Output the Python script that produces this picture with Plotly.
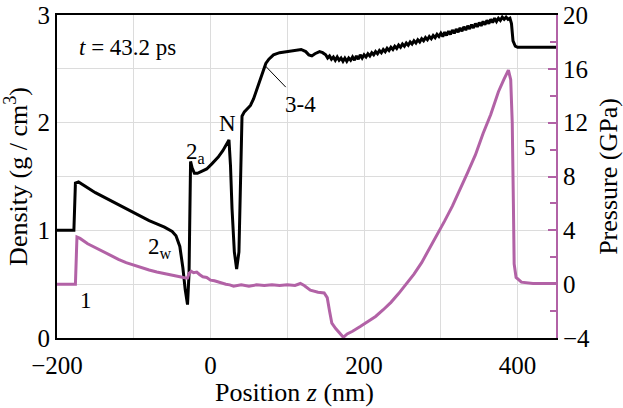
import plotly.graph_objects as go

# Density (black) — position z (nm), density (g/cm^3)
z_rho = [-200, -178, -176, -172, -150, -120, -100, -80, -70, -60, -50, -45, -40, -36, -33, -30,
         -28, -27, -26, -24, -21, -17, -12, -5, 2, 10, 16, 21, 24, 26, 28, 31, 34, 37, 39, 41,
         44, 48, 52, 56, 60, 64, 68, 72, 76, 82, 90, 100, 110, 118, 124, 128, 132, 136, 142,
         146, 150,
         152.5, 155, 157.5, 160, 162.5, 165, 167.5, 170, 172.5, 175, 177.5, 180, 182.5, 185,
         187.5, 190, 192.5, 195, 197.5, 200, 202.5, 205, 207.5, 210, 212.5, 215, 217.5, 220,
         222.5, 225, 227.5, 230, 232.5, 235, 237.5, 240, 242.5, 245, 247.5, 250, 252.5, 255,
         257.5, 260, 262.5, 265, 267.5, 270, 272.5, 275, 277.5, 280, 282.5, 285, 287.5, 290,
         292.5, 295, 297.5, 300, 302.5, 305, 307.5, 310, 312.5, 315, 317.5, 320, 322.5, 325,
         327.5, 330, 332.5, 335, 337.5, 340, 342.5, 345, 347.5, 350, 352.5, 355, 357.5, 360,
         362.5, 365, 367.5, 370, 372.5, 375, 377.5, 380, 382.5, 385, 387.5, 390,
         392, 394, 397, 400, 450]
rho = [1.0, 1.0, 1.44, 1.45, 1.35, 1.24, 1.16, 1.09, 1.06, 1.03, 0.99, 0.95, 0.85, 0.65, 0.45, 0.31,
       0.6, 1.3, 1.64, 1.58, 1.53, 1.53, 1.55, 1.57, 1.62, 1.68, 1.74, 1.80, 1.84, 1.6, 1.2, 0.8,
       0.64, 0.8, 1.4, 2.06,
       2.10, 2.13, 2.16, 2.22, 2.30, 2.37, 2.47, 2.55, 2.59, 2.63, 2.65, 2.66, 2.67, 2.68, 2.66,
       2.63, 2.62, 2.64, 2.66, 2.65, 2.63,
       2.60, 2.62, 2.59, 2.61, 2.58, 2.61, 2.58, 2.60, 2.57, 2.60, 2.57, 2.60, 2.58, 2.61,
       2.58, 2.62, 2.59, 2.63, 2.60, 2.63, 2.61, 2.64, 2.62, 2.65, 2.63, 2.66, 2.64, 2.67,
       2.65, 2.68, 2.66, 2.69, 2.67, 2.70, 2.68, 2.71, 2.69, 2.72, 2.70, 2.73, 2.71, 2.74,
       2.72, 2.75, 2.73, 2.76, 2.74, 2.77, 2.75, 2.78, 2.76, 2.79, 2.77, 2.80, 2.78, 2.81,
       2.79, 2.82, 2.80, 2.83, 2.80, 2.84, 2.81, 2.85, 2.82, 2.86, 2.83, 2.87, 2.84, 2.88,
       2.85, 2.89, 2.86, 2.90, 2.87, 2.91, 2.88, 2.92, 2.89, 2.93, 2.90, 2.94, 2.91, 2.95,
       2.92, 2.96, 2.93, 2.97, 2.94, 2.97, 2.95, 2.98, 2.96, 2.98, 2.96, 2.97,
       2.92, 2.76, 2.71, 2.70, 2.70]

# Pressure (purple) — position z (nm), pressure (GPa)
z_p = [-200, -176, -174, -170, -160, -150, -140, -130, -120, -110, -100, -90, -80, -70, -60, -50,
       -40, -32, -30, -28, -25, -22, -18, -14, -10, -5, 0, 5, 10, 15, 20, 25, 30, 40, 50, 60, 70,
       80, 90, 100, 110, 117, 122, 130, 140, 148, 152, 155, 158, 163, 168, 173, 178, 185, 195,
       205, 215, 225, 235, 245, 255, 265, 275, 285, 295, 305, 315, 325, 335, 345, 355, 365, 375,
       382, 388, 391, 393, 394.5, 395.5, 398, 405, 420, 450]
pres = [0, 0, 3.5, 3.4, 3.0, 2.7, 2.4, 2.1, 1.85, 1.6, 1.4, 1.2, 1.05, 0.9, 0.8, 0.7,
        0.55, 0.45, 0.45, 0.8, 0.95, 0.85, 0.9, 0.7, 0.55, 0.5, 0.3, 0.25, 0.15, 0.1, 0.0, -0.05,
        -0.15, -0.05, -0.15, -0.05, -0.1, -0.05, -0.1, -0.05, -0.1, 0.05, -0.1, -0.45, -0.6,
        -0.65, -1.0, -2.0, -2.9, -3.3, -3.6, -3.95, -3.7, -3.5, -3.15, -2.8, -2.4, -1.9, -1.35,
        -0.7, 0.0, 0.75, 1.6, 2.6, 3.6, 4.7, 5.8, 7.0, 8.3, 9.6, 11.2, 12.6, 14.3, 15.2, 15.9,
        15.2, 12, 6, 1.5, 0.5, 0.15, 0.05, 0.05]

x_ticks = [-200, 0, 200, 400]
rho_ticks = [0, 1, 2, 3]
p_ticks = [-4, 0, 4, 8, 12, 16, 20]

PURPLE = "#b262a6"
FONT = "Liberation Serif, Times New Roman, serif"
GRID = "#dcdcdc"

fig = go.Figure()
fig.add_trace(go.Scatter(x=z_p, y=pres, yaxis="y2", mode="lines",
                         line=dict(color=PURPLE, width=3), showlegend=False))
fig.add_trace(go.Scatter(x=z_rho, y=rho, mode="lines",
                         line=dict(color="black", width=3), showlegend=False))

ann_font = dict(family=FONT, size=23, color="black")
anns = [
    dict(x=-108, y=2.70, text="<i>t</i> = 43.2 ps"),
    dict(x=-20, y=1.72, text="2<sub>a</sub>"),
    dict(x=22, y=1.99, text="N"),
    dict(x=117, y=2.17, text="3-4"),
    dict(x=-66, y=0.84, text="2<sub>w</sub>"),
    dict(x=-162, y=0.35, text="1"),
    dict(x=416, y=1.77, text="5"),
]
for a in anns:
    fig.add_annotation(xref="x", yref="y", showarrow=False, font=ann_font, **a)

# x-axis title (placed slightly left of centre, as in the original)
fig.add_annotation(xref="paper", yref="paper", x=0.475, y=-0.168, showarrow=False,
                   text="Position <i>z</i> (nm)", font=dict(family=FONT, size=26, color="black"),
                   yanchor="middle")

fig.add_shape(type="line", xref="x", yref="y", x0=71, y0=2.53, x1=98, y1=2.33,
              line=dict(color="black", width=1))

fig.update_layout(
    width=623, height=408,
    margin=dict(l=57, r=67, t=15, b=70, autoexpand=False),
    plot_bgcolor="white", paper_bgcolor="white",
    font=dict(family=FONT, size=25, color="black"),
    xaxis=dict(range=[-200, 450], tickvals=x_ticks, showline=True, linecolor="black",
               linewidth=2, mirror=True, showgrid=True, gridcolor=GRID, zeroline=False,
               ticks="", minor=dict(dtick=100, tick0=0, showgrid=True, gridcolor=GRID),
               ticklabelstandoff=4, tickfont=dict(size=25)),
    yaxis=dict(range=[0, 3], tickvals=rho_ticks, showline=True, linecolor="black",
               linewidth=2, showgrid=True, gridcolor=GRID, zeroline=False, ticks="",
               minor=dict(dtick=0.5, tick0=0, showgrid=True, gridcolor=GRID),
               title=dict(text="Density (g / cm<sup>3</sup>)", font=dict(size=26), standoff=4),
               tickfont=dict(size=25)),
    yaxis2=dict(range=[-4, 20], tickvals=p_ticks, overlaying="y", side="right",
                showline=True, linecolor=PURPLE, linewidth=2, showgrid=False, zeroline=False,
                ticks="inside", ticklen=8, tickcolor=PURPLE, tickwidth=1.5,
                minor=dict(dtick=2, tick0=0, ticks="inside", ticklen=6, tickcolor=PURPLE,
                           showgrid=False),
                title=dict(text="Pressure (GPa)", font=dict(size=26), standoff=16),
                tickfont=dict(size=25)),
)

fig.write_html("out.html")
